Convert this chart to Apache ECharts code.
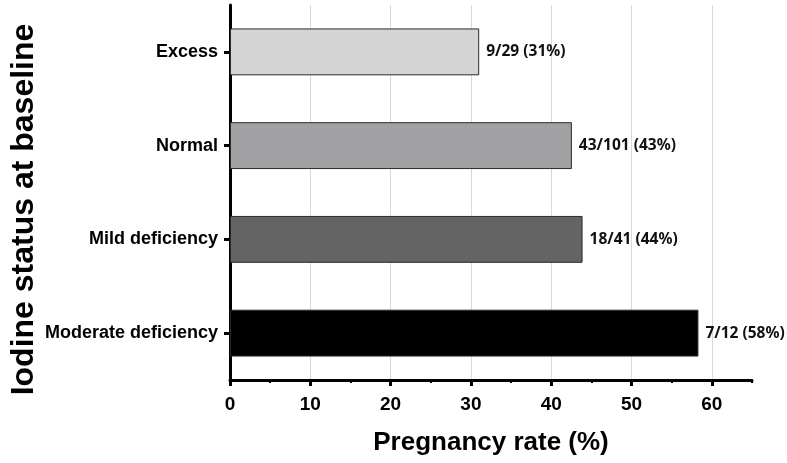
<!DOCTYPE html>
<html>
<head>
<meta charset="utf-8">
<script src="https://cdn.jsdelivr.net/npm/echarts@6/dist/echarts.min.js"></script>
<style>
html,body{margin:0;padding:0;background:#fff;}
#chart{width:787px;height:463px;}
</style>
</head>
<body>
<div id="chart"></div>
<script>
const categories = ["Excess", "Normal", "Mild deficiency", "Moderate deficiency"];
const rates = [31.03, 42.57, 43.90, 58.33];
const barLabels = ["9/29 (31%)", "43/101 (43%)", "18/41 (44%)", "7/12 (58%)"];
const barColors = ["#d4d4d4", "#a1a1a4", "#646464", "#000000"];
const xMin = 0, xMax = 65, xMajor = 10, xMinor = 5;

const chart = echarts.init(document.getElementById('chart'));
const AX = "'Liberation Sans', Arial, Helvetica, sans-serif";
chart.setOption({
  animation: false,
  backgroundColor: '#ffffff',
  grid: { left: 230, right: 35, top: 5, bottom: 83, containLabel: false, outerBoundsMode: 'none' },
  xAxis: [
    {
      type: 'value', min: xMin, max: xMax, interval: xMajor, position: 'bottom',
      name: 'Pregnancy rate (%)', nameLocation: 'middle', nameGap: 50, nameMoveOverlap: false,
      nameTextStyle: { fontFamily: AX, fontWeight: 'bold', fontSize: 26, color: '#000' },
      axisLine: { show: true, onZero: false, lineStyle: { color: '#000', width: 3 } },
      axisTick: { show: true, length: 6, lineStyle: { color: '#000', width: 3 } },
      axisLabel: { fontFamily: AX, fontWeight: 'bold', fontSize: 19, color: '#000', margin: 15, showMaxLabel: false },
      splitLine: { show: true, showMinLine: false, showMaxLine: false, lineStyle: { color: '#d9d9d9', width: 1 } }
    },
    {
      type: 'value', min: xMin, max: xMax, interval: xMinor, position: 'bottom',
      axisLine: { show: false },
      axisTick: { show: true, length: 3, lineStyle: { color: '#000', width: 2 } },
      axisLabel: { show: false },
      splitLine: { show: false }
    }
  ],
  yAxis: {
    type: 'category', data: categories, inverse: true,
    name: 'Iodine status at baseline', nameLocation: 'middle', nameGap: 190, nameRotate: 90, nameMoveOverlap: false,
    nameTextStyle: { fontFamily: AX, fontWeight: 'bold', fontSize: 32, color: '#000', padding: [0, 34, 0, 0] },
    axisLine: { show: true, lineStyle: { color: '#000', width: 3 } },
    axisTick: { show: true, alignWithLabel: true, length: 6, lineStyle: { color: '#000', width: 3 } },
    axisLabel: { fontFamily: AX, fontWeight: 'bold', fontSize: 18, color: '#000', margin: 12 },
    splitLine: { show: false }
  },
  series: [{
    type: 'bar', xAxisIndex: 0,
    data: rates.map((v, i) => ({ value: v, itemStyle: { color: barColors[i] } })),
    barWidth: '50%',
    itemStyle: { borderColor: '#2a2a2a', borderWidth: 1 },
    label: {
      show: true, position: 'right', distance: 7,
      formatter: p => barLabels[p.dataIndex],
      fontFamily: "'Noto Sans', 'Open Sans', sans-serif", fontWeight: 'bold', fontSize: 15.5, color: '#111'
    }
  }]
});
</script>
</body>
</html>
